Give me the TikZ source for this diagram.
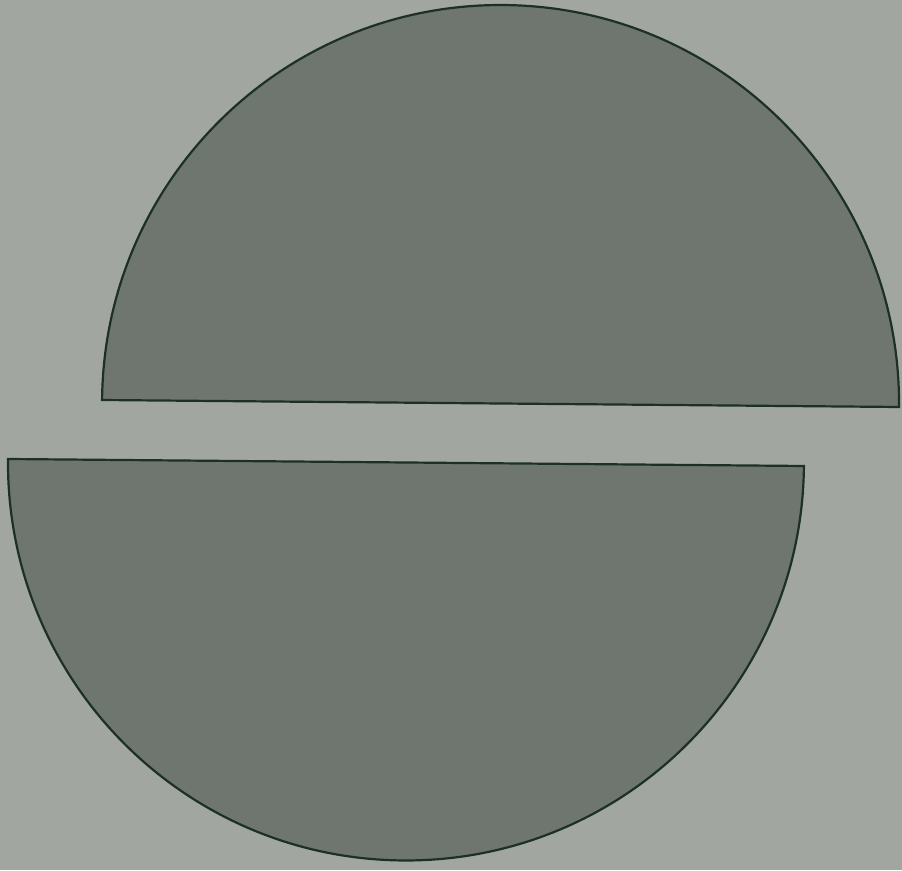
\documentclass[tikz,border=0pt]{standalone}
\begin{document}
\begin{tikzpicture}[x=1pt,y=1pt,
  halfdisc/.style={fill=discfill,draw=discline,line width=2.2pt,line join=miter}]
\definecolor{bggray}{RGB}{162,166,161}
\definecolor{discfill}{RGB}{110,118,111}
\definecolor{discline}{RGB}{28,48,38}
\fill[bggray] (0,0) rectangle (902,870);
\useasboundingbox (0,0) rectangle (902,870);
% upper half disc
\draw[halfdisc] (899,463) arc[start angle=-0.503, end angle=179.497, radius=398.5] -- cycle;
% lower half disc
\draw[halfdisc] (8,411) arc[start angle=179.496, end angle=359.496, radius=398] -- cycle;
\end{tikzpicture}
\end{document}
